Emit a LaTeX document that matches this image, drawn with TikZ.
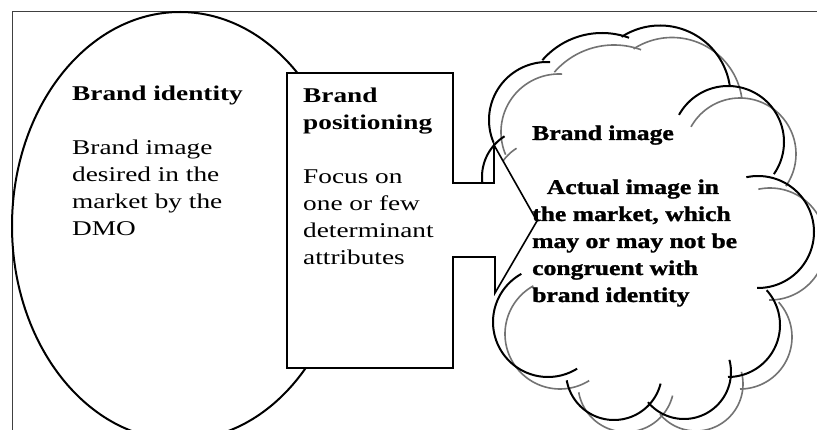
\documentclass[tikz,border=0pt]{standalone}
\usepackage{fontspec}
\setmainfont{Liberation Serif}
\newfontfamily\cloudfont{Liberation Serif}[BoldFeatures={FakeBold=1.2}]
\usepackage{graphicx}
\tikzset{
  framel/.style={draw=black!75, line width=0.9pt},
  ovalline/.style={draw=black, line width=2pt, fill=white},
  boxline/.style={draw=black, line width=1.6pt, fill=white, line join=miter},
  cloudblack/.style={black, line width=2pt},
  cloudgray/.style={black!55, line width=1.6pt},
  txt/.style={anchor=base west, inner sep=0pt, font=\fontsize{21}{27}\selectfont},
}
\newcommand\stretchlines[2]{\scalebox{#1}[1]{\begin{tabular}[t]{@{}l@{}}#2\end{tabular}}}
\newcommand\cloudarcs{%
  \foreach \cx/\cy/\sa/\ea/\rr in {
     547/120/157/273/58,
     602/112/221/290/79,
     660/96/237/352/70.5,
     728/142/209/395/56,
     758/232/258/451/56,
     728/325/318/450/52,
     684/372/140/-15/47,
     614/372/170/14/48,
     548/322/241/58/55,
     530/177/238/140/48}
    {\draw plot[domain=\sa:\ea, samples=60, smooth] ({\cx+\rr*cos(\x)},{\cy+\rr*sin(\x)});}%
}
\begin{document}
\begin{tikzpicture}[x=1pt, y=-1pt]
\useasboundingbox (0,0) rectangle (817,430);
\fill[white] (0,0) rectangle (817,430);
% frame
\draw[framel] (12,430) -- (12,11) -- (817,11);
% brand identity oval
\draw[ovalline] (180,226) ellipse [x radius=168, y radius=214];
% cloud: shadow then outline
\begin{scope}[shift={(12,12)}, cloudgray]
  \cloudarcs
\end{scope}
\begin{scope}[cloudblack]
  \cloudarcs
\end{scope}
% brand positioning box with arrow
\draw[boxline] (287,73) -- (453,73) -- (453,183) -- (494,183) -- (494,145)
  -- (537,221) -- (495,293) -- (495,257) -- (453,257) -- (453,368)
  -- (287,368) -- cycle;
% texts
\node[txt] (identity) at (72,101) {\stretchlines{1.3}{\textbf{Brand identity}\\ \\
  Brand image\\ desired in the\\ market by the\\ DMO}};
\node[txt] (positioning) at (303,103) {\stretchlines{1.3}{\textbf{Brand}\\
  \textbf{positioning}\\ \\ Focus on\\ one or few\\ determinant\\ attributes}};
\node[txt] (image) at (532,140) {\cloudfont\bfseries\stretchlines{1.22}{Brand image\\ \\
  \hspace*{12pt}Actual image in\\ the market, which\\
  may or may not be\\ congruent with\\ brand identity}};
\end{tikzpicture}
\end{document}
